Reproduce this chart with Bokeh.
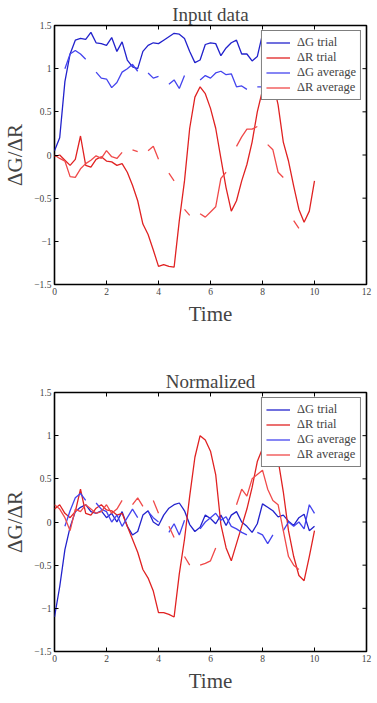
import numpy as np
from bokeh.plotting import figure
from bokeh.layouts import column
from bokeh.models import FixedTicker
from bokeh.embed import file_html
from bokeh.resources import INLINE

nan = float("nan")

time = [0.0, 0.2, 0.4, 0.6, 0.8, 1.0, 1.2, 1.4, 1.6, 1.8,
        2.0, 2.2, 2.4, 2.6, 2.8, 3.0, 3.2, 3.4, 3.6, 3.8,
        4.0, 4.2, 4.4, 4.6, 4.8, 5.0, 5.2, 5.4, 5.6, 5.8,
        6.0, 6.2, 6.4, 6.6, 6.8, 7.0, 7.2, 7.4, 7.6, 7.8,
        8.0, 8.2, 8.4, 8.6, 8.8, 9.0, 9.2, 9.4, 9.6, 9.8, 10.0]

# ---- top panel ----
g_trial = [0.05, 0.2, 0.85, 1.17, 1.33, 1.35, 1.34, 1.42, 1.30, 1.29,
           1.27, 1.36, 1.20, 1.31, 1.10, 1.02, 1.00, 1.20, 1.27, 1.30,
           1.29, 1.33, 1.37, 1.41, 1.40, 1.35, 1.20, 1.07, 1.10, 1.28,
           1.30, 1.29, 1.15, 1.24, 1.30, 1.33, 1.17, 1.17, 1.09, 1.14,
           1.40, 1.32, 1.35, 1.28, 1.36, 1.30, 1.33, 1.38, 1.27, 1.32, 1.30]
r_trial = [-0.02, 0.0, -0.06, -0.12, -0.05, 0.22, -0.12, -0.14, -0.05, -0.02,
           -0.07, -0.08, -0.12, -0.10, -0.20, -0.35, -0.53, -0.80, -0.92, -1.10,
           -1.29, -1.27, -1.29, -1.30, -0.76, -0.30, 0.31, 0.67, 0.79, 0.71,
           0.54, 0.31, -0.04, -0.38, -0.65, -0.53, -0.30, -0.11, 0.15, 0.50,
           0.75, 0.88, 0.85, 0.58, 0.15, -0.07, -0.36, -0.63, -0.78, -0.65, -0.30]
g_avg = [nan, nan, 1.00, 1.17, 1.21, 1.17, 1.11, nan, 0.96, 0.89,
         0.88, 0.78, 0.84, 0.96, 1.00, 1.05, 0.97, nan, 0.95, 0.89,
         0.91, nan, 0.82, 0.87, 0.77, 0.92, nan, nan, 0.87, 0.92,
         0.89, 0.95, 0.97, 0.93, 0.94, 0.79, 0.80, 0.76, nan, 0.79,
         0.79, 0.68, 0.78, nan, 0.90, 0.97, 0.90, 0.94, 0.89, 0.98, nan]
r_avg = [0.0, -0.04, -0.07, -0.25, -0.26, -0.16, -0.10, -0.06, -0.01, -0.04,
         0.05, -0.02, -0.04, 0.03, nan, 0.06, 0.04, nan, 0.05, 0.10,
         -0.05, nan, -0.21, -0.30, nan, -0.63, -0.70, nan, -0.68, -0.72,
         -0.66, -0.60, -0.27, -0.20, nan, 0.10, 0.21, 0.30, 0.30, 0.33,
         nan, 0.12, 0.06, -0.20, -0.26, nan, -0.76, -0.85, nan, nan, nan]

# ---- bottom panel ----
g_trial_n = [-1.10, -0.75, -0.32, -0.06, 0.12, 0.17, 0.20, 0.12, 0.10, 0.13,
             0.05, 0.10, 0.00, 0.12, -0.05, -0.15, -0.11, 0.08, 0.13, 0.00,
             -0.04, 0.08, 0.16, 0.20, 0.22, 0.13, -0.03, -0.11, -0.06, 0.08,
             0.04, -0.02, 0.08, -0.04, 0.08, 0.12, 0.00, -0.05, -0.12, -0.02,
             0.21, 0.17, 0.13, 0.06, 0.08, 0.01, -0.04, 0.05, 0.09, -0.10, -0.05]
r_trial_n = [0.15, 0.20, 0.10, 0.05, 0.12, 0.38, 0.10, 0.08, 0.16, 0.20,
             0.14, 0.13, 0.08, 0.10, -0.05, -0.20, -0.35, -0.55, -0.65, -0.80,
             -1.05, -1.05, -1.07, -1.10, -0.60, -0.20, 0.30, 0.75, 1.00, 0.95,
             0.82, 0.55, -0.03, -0.30, -0.45, -0.25, -0.05, 0.15, 0.40, 0.70,
             0.85, 0.98, 1.00, 0.72, 0.35, -0.10, -0.40, -0.62, -0.68, -0.40, -0.10]
g_avg_n = [nan, nan, -0.05, 0.13, 0.28, 0.33, 0.25, nan, 0.22, 0.15,
           0.12, 0.00, 0.08, -0.05, 0.05, 0.15, 0.05, nan, 0.12, 0.05,
           0.00, nan, -0.12, -0.02, -0.15, 0.02, nan, nan, -0.08, 0.00,
           0.05, 0.10, 0.02, 0.06, -0.05, -0.08, -0.12, -0.15, nan, -0.12,
           -0.15, -0.25, -0.15, nan, -0.10, 0.00, -0.05, 0.00, -0.08, 0.20, 0.10]
r_avg_n = [0.20, 0.15, 0.05, -0.10, 0.15, 0.12, 0.20, 0.15, 0.10, 0.12,
           0.20, 0.10, 0.15, 0.25, nan, 0.20, 0.28, 0.18, nan, 0.25,
           0.10, nan, -0.05, -0.18, nan, -0.40, -0.50, nan, -0.50, -0.48,
           -0.45, -0.30, nan, nan, nan, 0.20, 0.38, 0.30, 0.50, 0.55,
           0.60, 0.38, 0.25, 0.20, -0.10, -0.40, -0.50, -0.55, nan, nan, nan]

titles = ["Input data", "Normalized"]
x_label = "Time"
y_label = "ΔG/ΔR"
legend_labels = ["ΔG trial", "ΔR trial", "ΔG average", "ΔR average"]
colors = ["#2222cc", "#e02222", "#4444ee", "#f04a4a"]
x_ticks = [0, 2, 4, 6, 8, 10, 12]
y_ticks = [-1.5, -1.0, -0.5, 0.0, 0.5, 1.0, 1.5]
y_tick_text = {-1.5: "−1.5", -1.0: "−1", -0.5: "−0.5", 0.0: "0", 0.5: "0.5", 1.0: "1", 1.5: "1.5"}

SERIF = "Liberation Serif"


def make_panel(title, series, h, left, right, top, bottom):
    p = figure(width=377, height=h, x_range=(0, 12), y_range=(-1.5, 1.5),
               output_backend="svg", toolbar_location=None,
               min_border_left=left, min_border_right=377 - right,
               min_border_top=top, min_border_bottom=h - bottom)
    p.title.text = title
    p.title.align = "center"
    p.title.text_font = SERIF
    p.title.text_font_size = "19px"
    p.title.text_font_style = "normal"
    p.title.standoff = 2
    p.xgrid.visible = False
    p.ygrid.visible = False
    p.outline_line_color = "black"
    p.outline_line_width = 1.6
    p.background_fill_color = "white"
    p.border_fill_color = "white"

    for ax in p.xaxis:
        ax.ticker = FixedTicker(ticks=x_ticks)
        ax.axis_label = x_label
    for ax in p.yaxis:
        ax.ticker = FixedTicker(ticks=y_ticks)
        ax.major_label_overrides = y_tick_text
        ax.axis_label = y_label
    for ax in list(p.xaxis) + list(p.yaxis):
        ax.axis_line_color = None
        ax.major_tick_in = 4
        ax.major_tick_out = 0
        ax.minor_tick_line_color = None
        ax.major_tick_line_color = "black"
        ax.major_label_text_font = SERIF
        ax.major_label_text_font_size = "9.5px"
        ax.major_label_text_color = "#444444"
        ax.major_label_standoff = 3
        ax.axis_label_text_font = SERIF
        ax.axis_label_text_font_size = "21px"
        ax.axis_label_text_font_style = "normal"
        ax.axis_label_standoff = 4

    # inward ticks on the top and right edges of the frame
    p.ray(x=x_ticks, y=[y_ticks[-1]] * len(x_ticks), length=4, length_units="screen",
          angle=-np.pi / 2, line_color="black", line_width=1)
    p.ray(x=[x_ticks[-1]] * len(y_ticks), y=y_ticks, length=4, length_units="screen",
          angle=np.pi, line_color="black", line_width=1)

    x = np.array(time, dtype=float)
    for ys, lab, col in zip(series, legend_labels, colors):
        p.line(x, np.array(ys, dtype=float), line_color=col, line_width=1.3,
               legend_label=lab)

    lg = p.legend[0]
    lg.location = "top_right"
    lg.margin = 5
    lg.padding = 4
    lg.spacing = 0
    lg.label_text_font = SERIF
    lg.label_text_font_size = "12.5px"
    lg.label_height = 13
    lg.glyph_height = 13
    lg.glyph_width = 24
    lg.label_standoff = 7
    lg.border_line_color = "black"
    lg.border_line_width = 1.2
    lg.background_fill_alpha = 1.0
    return p


p1 = make_panel(titles[0], [g_trial, r_trial, g_avg, r_avg], 350, 44, 371, 23, 284)
p2 = make_panel(titles[1], [g_trial_n, r_trial_n, g_avg_n, r_avg_n], 353, 49, 366, 42, 301)

layout = column(p1, p2, spacing=0)
open("out.html", "w").write(file_html(layout, INLINE))
